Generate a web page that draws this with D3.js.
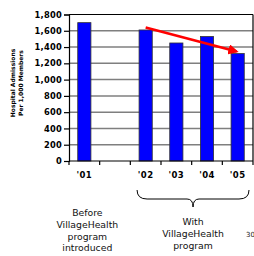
<!DOCTYPE html>
<html><head><meta charset="utf-8">
<script src="https://cdn.jsdelivr.net/npm/d3@7"></script>
<style>body{margin:0;background:#fff}svg{display:block}</style>
</head><body>
<svg id="c" width="254" height="256"></svg>
<script>
const categories = ["'01", " ", "'02", "'03", "'04", "'05"];
const values = [1700, null, 1610, 1450, 1530, 1320];
const yTicks = [0, 200, 400, 600, 800, 1000, 1200, 1400, 1600, 1800];
const yTitle = ["Hospital Admissions", "Per 1,000 Members"];
const arrowFrom = ["'02", 1640];
const arrowTo = ["'05", 1345];
const beforeText = ["Before", "VillageHealth", "program", "introduced"];
const withText = ["With", "VillageHealth", "program"];
const pageNo = "30";

const svg = d3.select("#c");
const L = 69, R = 253, T = 14.5, B = 161;
const x = d3.scaleBand().domain(categories).range([L, R]).padding(0);
const y = d3.scaleLinear().domain([0, 1800]).range([B, T]);
const bw = x.bandwidth() * 0.43;
const font = "DejaVu Sans, Verdana, sans-serif";

// gridlines
svg.append("g").selectAll("line").data(yTicks.filter(d => d > 0 && d < 1800)).join("line")
  .attr("x1", L).attr("x2", R).attr("y1", d => y(d)).attr("y2", d => y(d))
  .attr("stroke", "#7f7f7f").attr("stroke-width", 1.5);
// top & right border
svg.append("line").attr("x1", L).attr("x2", R).attr("y1", y(1800)).attr("y2", y(1800)).attr("stroke", "#000").attr("stroke-width", 1.2);
svg.append("line").attr("x1", R).attr("x2", R).attr("y1", y(1800)).attr("y2", y(0)).attr("stroke", "#000").attr("stroke-width", 1.2);

// bars
svg.append("g").selectAll("rect").data(categories.map((c, i) => ({c, v: values[i]})).filter(d => d.v != null)).join("rect")
  .attr("x", d => x(d.c) + (x.bandwidth() - bw) / 2)
  .attr("y", d => y(d.v))
  .attr("width", bw)
  .attr("height", d => y(0) - y(d.v))
  .attr("fill", "#0000ff").attr("stroke", "#333").attr("stroke-width", 0.8);

// y axis
const ya = svg.append("g").attr("transform", `translate(${L},0)`)
  .call(d3.axisLeft(y).tickValues(yTicks).tickFormat(d3.format(",")).tickSize(5).tickPadding(2));
ya.select(".domain").attr("stroke", "#000").attr("stroke-width", 1.2);
ya.selectAll(".tick line").attr("stroke", "#000").attr("stroke-width", 1.2);
ya.selectAll("text").attr("font-family", font).attr("font-weight", "bold").attr("font-size", "8.3px").attr("fill", "#000").attr("letter-spacing", "0.25px");

// x axis baseline + boundary ticks
svg.append("line").attr("x1", L).attr("x2", R).attr("y1", y(0)).attr("y2", y(0)).attr("stroke", "#000").attr("stroke-width", 1.2);
const bounds = categories.map(c => x(c)).concat([R]);
svg.append("g").selectAll("line").data(bounds).join("line")
  .attr("x1", d => d).attr("x2", d => d).attr("y1", y(0)).attr("y2", y(0) + 4)
  .attr("stroke", "#000").attr("stroke-width", 1.2);
svg.append("g").selectAll("text").data(categories).join("text")
  .attr("x", d => x(d) + x.bandwidth() / 2).attr("y", y(0) + 17)
  .attr("text-anchor", "middle").attr("font-family", font).attr("font-weight", "bold")
  .attr("font-size", "8.5px").attr("letter-spacing", "0.4px").text(d => d.trim());

// y title
const yt = svg.append("text").attr("transform", `translate(13,83) rotate(-90)`)
  .attr("text-anchor", "middle").attr("font-family", font).attr("font-weight", "bold").attr("font-size", "6px");
yt.selectAll("tspan").data(yTitle).join("tspan").attr("x", 0).attr("dy", (d, i) => i ? 8 : 2).text(d => d);

// arrow
svg.append("defs").append("marker").attr("id", "ah").attr("viewBox", "0 0 10 10")
  .attr("refX", 8).attr("refY", 5).attr("markerWidth", 4).attr("markerHeight", 4).attr("orient", "auto")
  .append("path").attr("d", "M0,0 L10,5 L0,10 z").attr("fill", "#ff0000");
svg.append("line")
  .attr("x1", x(arrowFrom[0]) + x.bandwidth() / 2).attr("y1", y(arrowFrom[1]))
  .attr("x2", x(arrowTo[0]) + x.bandwidth() / 2 - 1).attr("y2", y(arrowTo[1]))
  .attr("stroke", "#ff0000").attr("stroke-width", 2.6).attr("marker-end", "url(#ah)");

// brace
const bx1 = x("'02") + (x.bandwidth() - bw) / 2 - 2, bx2 = x("'05") + x.bandwidth() - 4;
const bm = (bx1 + bx2) / 2, by = 190, bh = 9;
svg.append("path")
  .attr("d", `M${bx1},${by} Q${bx1},${by + bh} ${bx1 + 10},${by + bh} L${bm - 6},${by + bh} Q${bm},${by + bh} ${bm},${by + bh + 8} Q${bm},${by + bh} ${bm + 6},${by + bh} L${bx2 - 10},${by + bh} Q${bx2},${by + bh} ${bx2},${by}`)
  .attr("fill", "none").attr("stroke", "#000").attr("stroke-width", 1);

// annotation texts
const t1 = svg.append("text").attr("text-anchor", "middle").attr("font-family", font).attr("font-size", "9.3px").attr("fill", "#111");
t1.selectAll("tspan").data(beforeText).join("tspan").attr("x", x("'01") + x.bandwidth() / 2 + 3).attr("y", (d, i) => 216 + i * 11.8).text(d => d);
const t2 = svg.append("text").attr("text-anchor", "middle").attr("font-family", font).attr("font-size", "9.3px").attr("fill", "#111");
t2.selectAll("tspan").data(withText).join("tspan").attr("x", bm).attr("y", (d, i) => 225 + i * 11.8).text(d => d);
svg.append("text").attr("x", 246).attr("y", 237).attr("font-family", font).attr("font-size", "7px").attr("fill", "#222").text(pageNo);
</script>
</body></html>
